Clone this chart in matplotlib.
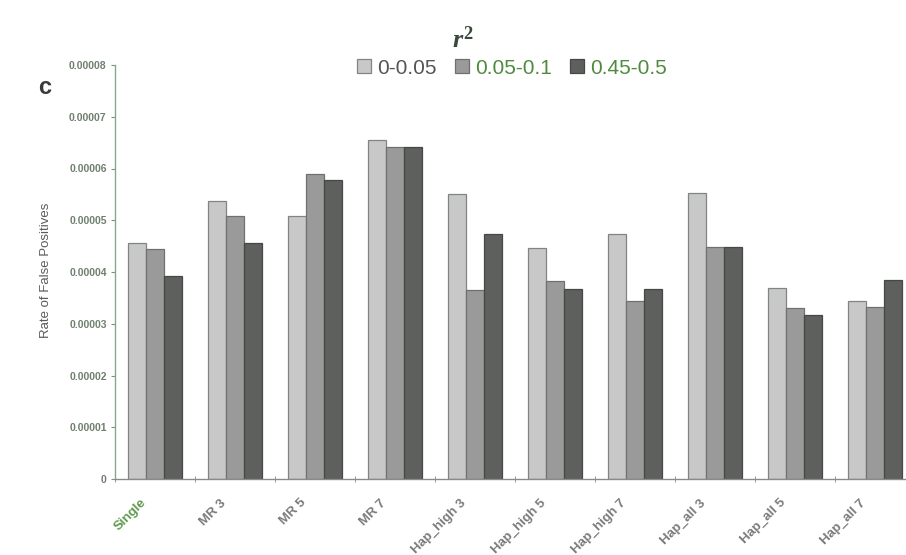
import numpy as np
import matplotlib
matplotlib.use("Agg")
import matplotlib.pyplot as plt
import matplotlib.transforms as mtransforms

categories = ["Single", "MR 3", "MR 5", "MR 7", "Hap_high 3", "Hap_high 5",
              "Hap_high 7", "Hap_all 3", "Hap_all 5", "Hap_all 7"]
series_names = ["0-0.05", "0.05-0.1", "0.45-0.5"]
r2_low = [4.57e-5, 5.37e-5, 5.09e-5, 6.55e-5, 5.50e-5, 4.47e-5, 4.74e-5, 5.52e-5, 3.69e-5, 3.44e-5]
r2_mid = [4.44e-5, 5.09e-5, 5.90e-5, 6.42e-5, 3.66e-5, 3.82e-5, 3.43e-5, 4.48e-5, 3.31e-5, 3.32e-5]
r2_high = [3.92e-5, 4.57e-5, 5.77e-5, 6.42e-5, 4.73e-5, 3.67e-5, 3.67e-5, 4.48e-5, 3.16e-5, 3.84e-5]
y_ticks = [0, 0.00001, 0.00002, 0.00003, 0.00004, 0.00005, 0.00006, 0.00007, 0.00008]
y_tick_labels = ["0", "0.00001", "0.00002", "0.00003", "0.00004", "0.00005",
                 "0.00006", "0.00007", "0.00008"]

plt.rcParams["font.family"] = ["Liberation Sans", "DejaVu Sans"]
plt.rcParams["mathtext.fontset"] = "custom"
plt.rcParams["mathtext.it"] = "Liberation Serif:italic:bold"
plt.rcParams["mathtext.rm"] = "Liberation Serif:bold"

fig = plt.figure(figsize=(9.06, 5.55), dpi=100)
W, H = 906, 555
# axes spans from x=115 px to x=915 px, y=65 px to y=479 px
ax = fig.add_axes([115 / W, 1 - 479 / H, 800 / W, 414 / H])

fills = ["#c8c8c8", "#9a9a9a", "#5d605d"]
edges = ["#7f867f", "#707070", "#454845"]
width = 0.225
x = np.arange(len(categories))
for i, vals in enumerate([r2_low, r2_mid, r2_high]):
    ax.bar(x + (i - 1) * width, vals, width, color=fills[i], edgecolor=edges[i],
           linewidth=0.9, label=series_names[i], zorder=2)

ax.set_xlim(-0.5, len(categories) - 0.5)
ax.set_ylim(0, 0.00008)

for s in ["top", "right"]:
    ax.spines[s].set_visible(False)
ax.spines["left"].set_color("#86a886")
ax.spines["bottom"].set_color("#8a8a8a")
ax.spines["left"].set_linewidth(1.0)
ax.spines["bottom"].set_linewidth(1.0)

ax.set_yticks(y_ticks)
ax.set_yticklabels(y_tick_labels, fontsize=7.5, fontweight="bold", color="#6f7f6f")
ax.tick_params(axis="y", direction="out", length=3, color="#888888", pad=3)

# category boundaries carry the tick marks, names sit at the centres
ax.set_xticks(np.arange(-0.5, len(categories) + 0.5, 1.0), minor=True)
ax.set_xticks(x)
ax.tick_params(axis="x", which="major", length=0)
ax.tick_params(axis="x", which="minor", direction="inout", length=4, color="#888888")
label_colors = ["#5f9a4f"] + ["#7a7a7a"] * (len(categories) - 1)
ax.set_xticklabels(categories, rotation=45, ha="right", rotation_mode="anchor",
                   fontsize=9.5, fontweight="bold")
offset = mtransforms.ScaledTranslation(-15 / 100, -13 / 100, fig.dpi_scale_trans)
for lab, c in zip(ax.get_xticklabels(), label_colors):
    lab.set_color(c)
    lab.set_transform(lab.get_transform() + offset)

fig.text(46 / W, 1 - 270 / H, "Rate of False Positives", rotation=90, ha="center",
         va="center", fontsize=9.5, color="#5a5a5a")
fig.text(45 / W, 1 - 88 / H, "c", ha="center", va="center", fontsize=17,
         fontweight="bold", color="#3a3a3a")
fig.text(463 / W, 1 - 40 / H, r"$r^2$", ha="center", va="center", fontsize=19,
         color="#3a4a3a")

leg = fig.legend(loc="center", bbox_to_anchor=(512 / W, 1 - 68 / H), ncol=3,
                 frameon=False, fontsize=15, handlelength=0.65, handleheight=0.65,
                 handletextpad=0.3, columnspacing=0.9)
for t, c in zip(leg.get_texts(), ["#555555", "#4f8a3f", "#4f8a3f"]):
    t.set_color(c)

fig.savefig("out.png", dpi=100)
